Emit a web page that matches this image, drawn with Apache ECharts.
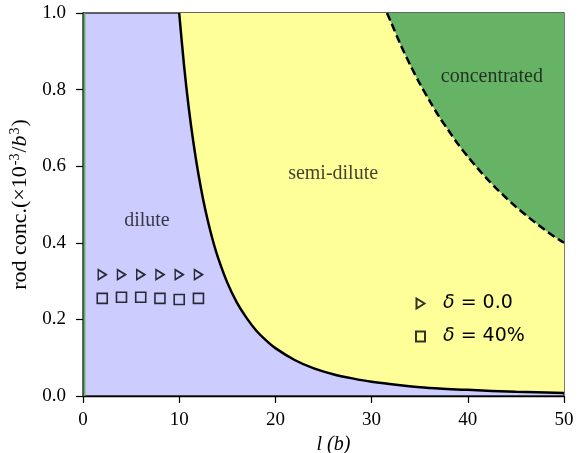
<!DOCTYPE html>
<html>
<head>
<meta charset="utf-8">
<script src="https://cdn.jsdelivr.net/npm/echarts@6/dist/echarts.min.js"></script>
<style>html,body{margin:0;padding:0;background:#fff}#c{width:581px;height:453px}</style>
</head>
<body>
<div id="c"></div>
<script>
// dilute / semi-dilute boundary (solid line)
const solidLength = [10, 10.5, 11, 11.5, 12, 12.5, 13, 13.5, 14, 15, 16, 17, 18, 19, 20, 22, 24, 26, 28, 30, 33, 36, 40, 45, 50];
const solidConc   = [1.0, 0.864, 0.751, 0.658, 0.579, 0.512, 0.455, 0.406, 0.364, 0.296, 0.244, 0.204, 0.171, 0.146, 0.125, 0.094, 0.072, 0.057, 0.046, 0.037, 0.028, 0.021, 0.016, 0.011, 0.008];
// semi-dilute / concentrated boundary (dashed line)
const dashedLength = [31.6, 32, 33, 34, 35, 36, 37, 38, 39, 40, 41, 42, 43, 44, 45, 46, 47, 48, 49, 50];
const dashedConc   = [1.0, 0.977, 0.918, 0.865, 0.816, 0.772, 0.730, 0.693, 0.657, 0.625, 0.595, 0.567, 0.541, 0.517, 0.494, 0.473, 0.453, 0.434, 0.416, 0.40];
// simulation points
const pointLength = [2, 4, 6, 8, 10, 12];
const delta0Conc  = [0.317, 0.317, 0.317, 0.317, 0.317, 0.317];
const delta40Conc = [0.255, 0.258, 0.258, 0.255, 0.252, 0.255];
const seriesNames = ['δ = 0.0', 'δ = 40%'];
// region labels
const regionNames  = ['dilute', 'semi-dilute', 'concentrated'];
const regionLength = [6.65, 26, 42.5];
const regionConc   = [0.457, 0.58, 0.833];
const xTicks = [0, 10, 20, 30, 40, 50];
const yTicks = [0.0, 0.2, 0.4, 0.6, 0.8, 1.0];

const zip = (a, b) => a.map((v, i) => [v, b[i]]);
const serif = 'Liberation Serif';

const chart = echarts.init(document.getElementById('c'), null, {renderer: 'canvas'});
chart.setOption({
  animation: false,
  grid: {
    left: 83, right: 17, top: 13, bottom: 57, outerBoundsMode: 'none', containLabel: false,
    show: true, backgroundColor: '#ccccff', borderColor: '#333', borderWidth: 1.3
  },
  xAxis: {
    type: 'value', min: xTicks[0], max: xTicks[xTicks.length - 1], interval: 10,
    splitLine: {show: false},
    axisLine: {lineStyle: {color: '#000', width: 1.3}},
    axisTick: {length: 7, lineStyle: {color: '#000', width: 1.2}},
    axisLabel: {color: '#000', fontFamily: serif, fontSize: 19, margin: 15},
    name: '{i|l} (b)', nameLocation: 'middle', nameGap: 36,
    nameTextStyle: {
      color: '#000', fontFamily: serif, fontSize: 20, fontStyle: 'italic', padding: [0, 0, 0, 20],
      rich: {i: {fontFamily: serif, fontSize: 20, fontStyle: 'italic', color: '#000'}}
    }
  },
  yAxis: {
    type: 'value', min: yTicks[0], max: yTicks[yTicks.length - 1], interval: 0.2,
    splitLine: {show: false},
    axisLine: {lineStyle: {color: '#000', width: 1.3}},
    axisTick: {length: 7, lineStyle: {color: '#000', width: 1.2}},
    axisLabel: {color: '#000', fontFamily: serif, fontSize: 19, margin: 17, formatter: v => v.toFixed(1)},
    name: '{n|rod conc.(×10}{s|-3}{n|/}{i|b}{s|3}{n|)}', nameLocation: 'middle', nameGap: 50, nameRotate: 90,
    nameMoveOverlap: false,
    nameTextStyle: {
      color: '#000', fontFamily: serif, fontSize: 22,
      rich: {
        n: {fontFamily: serif, fontSize: 22, color: '#000', lineHeight: 25},
        i: {fontFamily: serif, fontSize: 22, fontStyle: 'italic', color: '#000', lineHeight: 25},
        s: {fontFamily: serif, fontSize: 14, color: '#000', verticalAlign: 'top', lineHeight: 25, padding: [0, 1, 10, 1]}
      }
    }
  },
  legend: {
    data: [
      {name: seriesNames[0], icon: 'path://M0,0L8,5L0,10Z'},
      {name: seriesNames[1], icon: 'rect'}
    ],
    orient: 'vertical', left: 410, top: 289, itemGap: 14,
    itemWidth: 9, itemHeight: 10,
    textStyle: {
      fontFamily: 'DejaVu Sans', fontSize: 19, color: '#000', padding: [0, 0, 0, 13],
      rich: {
        i: {fontFamily: 'DejaVu Sans', fontSize: 19, fontStyle: 'italic', color: '#000'},
        r: {fontFamily: 'DejaVu Sans', fontSize: 19, color: '#000'}
      }
    },
    formatter: name => '{i|δ}{r|' + name.slice(1) + '}'
  },
  series: [
    {
      type: 'line', data: zip(solidLength, solidConc), smooth: 0.3,
      symbol: 'none', lineStyle: {width: 0}, areaStyle: {origin: 'end', color: '#ffff99', opacity: 1}, z: 1, silent: true
    },
    {
      type: 'line', data: zip(dashedLength, dashedConc), smooth: 0.3,
      symbol: 'none', lineStyle: {width: 0}, areaStyle: {origin: 'end', color: '#66b366', opacity: 1}, z: 2, silent: true
    },
    {
      type: 'line', data: [[0.15, yTicks[0]], [0.15, yTicks[yTicks.length - 1]]], symbol: 'none',
      lineStyle: {color: '#66b366', width: 2}, z: 3, silent: true
    },
    {
      type: 'line', data: zip(solidLength, solidConc), smooth: 0.3,
      symbol: 'none', lineStyle: {color: '#000', width: 2.5}, z: 4, silent: true
    },
    {
      type: 'line', data: zip(dashedLength, dashedConc), smooth: 0.3,
      symbol: 'none', lineStyle: {color: '#000', width: 2.5, type: [8, 4]}, z: 4, silent: true
    },
    {
      name: seriesNames[0], type: 'scatter', data: zip(pointLength, delta0Conc),
      symbol: 'triangle', symbolRotate: -90, symbolSize: [10, 8],
      itemStyle: {color: 'rgba(0,0,0,0)', borderColor: '#000', borderWidth: 1.6}, z: 5
    },
    {
      name: seriesNames[1], type: 'scatter', data: zip(pointLength, delta40Conc),
      symbol: 'rect', symbolSize: 10,
      itemStyle: {color: 'rgba(0,0,0,0)', borderColor: '#000', borderWidth: 1.6}, z: 5
    },
    {
      type: 'scatter', data: regionNames.map((n, i) => ({name: n, value: [regionLength[i], regionConc[i]]})),
      symbolSize: 0, silent: true, z: 6,
      label: {show: true, position: 'inside', formatter: p => p.name, color: '#111', fontFamily: serif, fontSize: 20}
    }
  ]
});
</script>
</body>
</html>
